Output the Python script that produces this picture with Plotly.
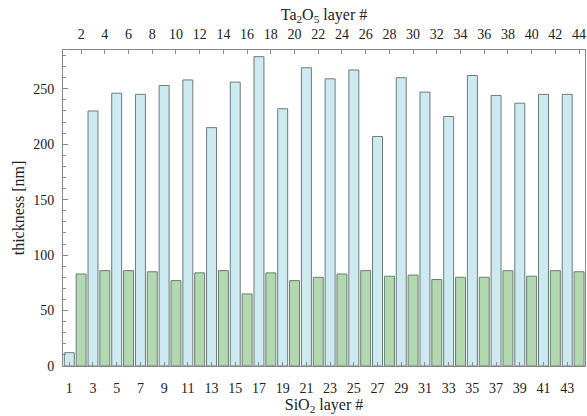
import plotly.graph_objects as go

sio2_layers = list(range(1, 45, 2))
sio2_thickness = [12, 230, 246, 245, 253, 258, 215, 256, 279, 232, 269,
                  259, 267, 207, 260, 247, 225, 262, 244, 237, 245, 245]
ta2o5_layers = list(range(2, 46, 2))
ta2o5_thickness = [83, 86, 86, 85, 77, 84, 86, 65, 84, 77, 80,
                   83, 86, 81, 82, 78, 80, 80, 86, 81, 86, 85]

bottom_ticks = list(range(1, 45, 2))
top_ticks = list(range(2, 45, 2))
y_ticks = [0, 50, 100, 150, 200, 250]

font_family = "Liberation Serif"
frame = "#8a8a8a"
edge = "#6f7a7a"

fig = go.Figure()
fig.add_trace(go.Bar(x=sio2_layers, y=sio2_thickness, width=0.84,
                     marker=dict(color="#cdeaf1", line=dict(color=edge, width=1)),
                     showlegend=False))
fig.add_trace(go.Bar(x=ta2o5_layers, y=ta2o5_thickness, width=0.84,
                     marker=dict(color="#b2d8b0", line=dict(color=edge, width=1)),
                     showlegend=False))
# invisible trace to activate the top axis
fig.add_trace(go.Scatter(x=[None], y=[None], xaxis="x2", showlegend=False))

xr = [0.47, 44.5]
fig.update_layout(
    width=587, height=416,
    margin=dict(l=63, r=2, t=50, b=50),
    plot_bgcolor="white", paper_bgcolor="white",
    font=dict(family=font_family, size=14, color="#222"),
    barmode="overlay",
    xaxis=dict(range=xr, tickmode="array", tickvals=bottom_ticks,
               ticks="inside", ticklen=4, tickcolor=frame,
               showline=True, linecolor=frame, linewidth=1, mirror=True,
               showgrid=False, zeroline=False,
               tickfont=dict(size=14), ticklabelstandoff=9,
               title=dict(text="SiO<sub>2</sub> layer #", font=dict(size=16), standoff=2)),
    xaxis2=dict(range=xr, overlaying="x", side="top", tickmode="array",
                tickvals=top_ticks, ticks="inside", ticklen=4, tickcolor=frame,
                showgrid=False, zeroline=False, showline=False,
                tickfont=dict(size=14), ticklabelstandoff=7,
                title=dict(text="Ta<sub>2</sub>O<sub>5</sub> layer #", font=dict(size=16), standoff=2)),
    yaxis=dict(range=[0, 285], tickmode="array", tickvals=y_ticks,
               ticks="inside", ticklen=5, tickcolor=frame,
               minor=dict(dtick=10, ticks="inside", ticklen=3, tickcolor=frame, showgrid=False),
               showline=True, linecolor=frame, linewidth=1, mirror=True,
               showgrid=False, zeroline=False,
               tickfont=dict(size=14), ticklabelstandoff=5,
               title=dict(text="thickness [nm]", font=dict(size=16), standoff=4)),
)

fig.write_html("out.html")
